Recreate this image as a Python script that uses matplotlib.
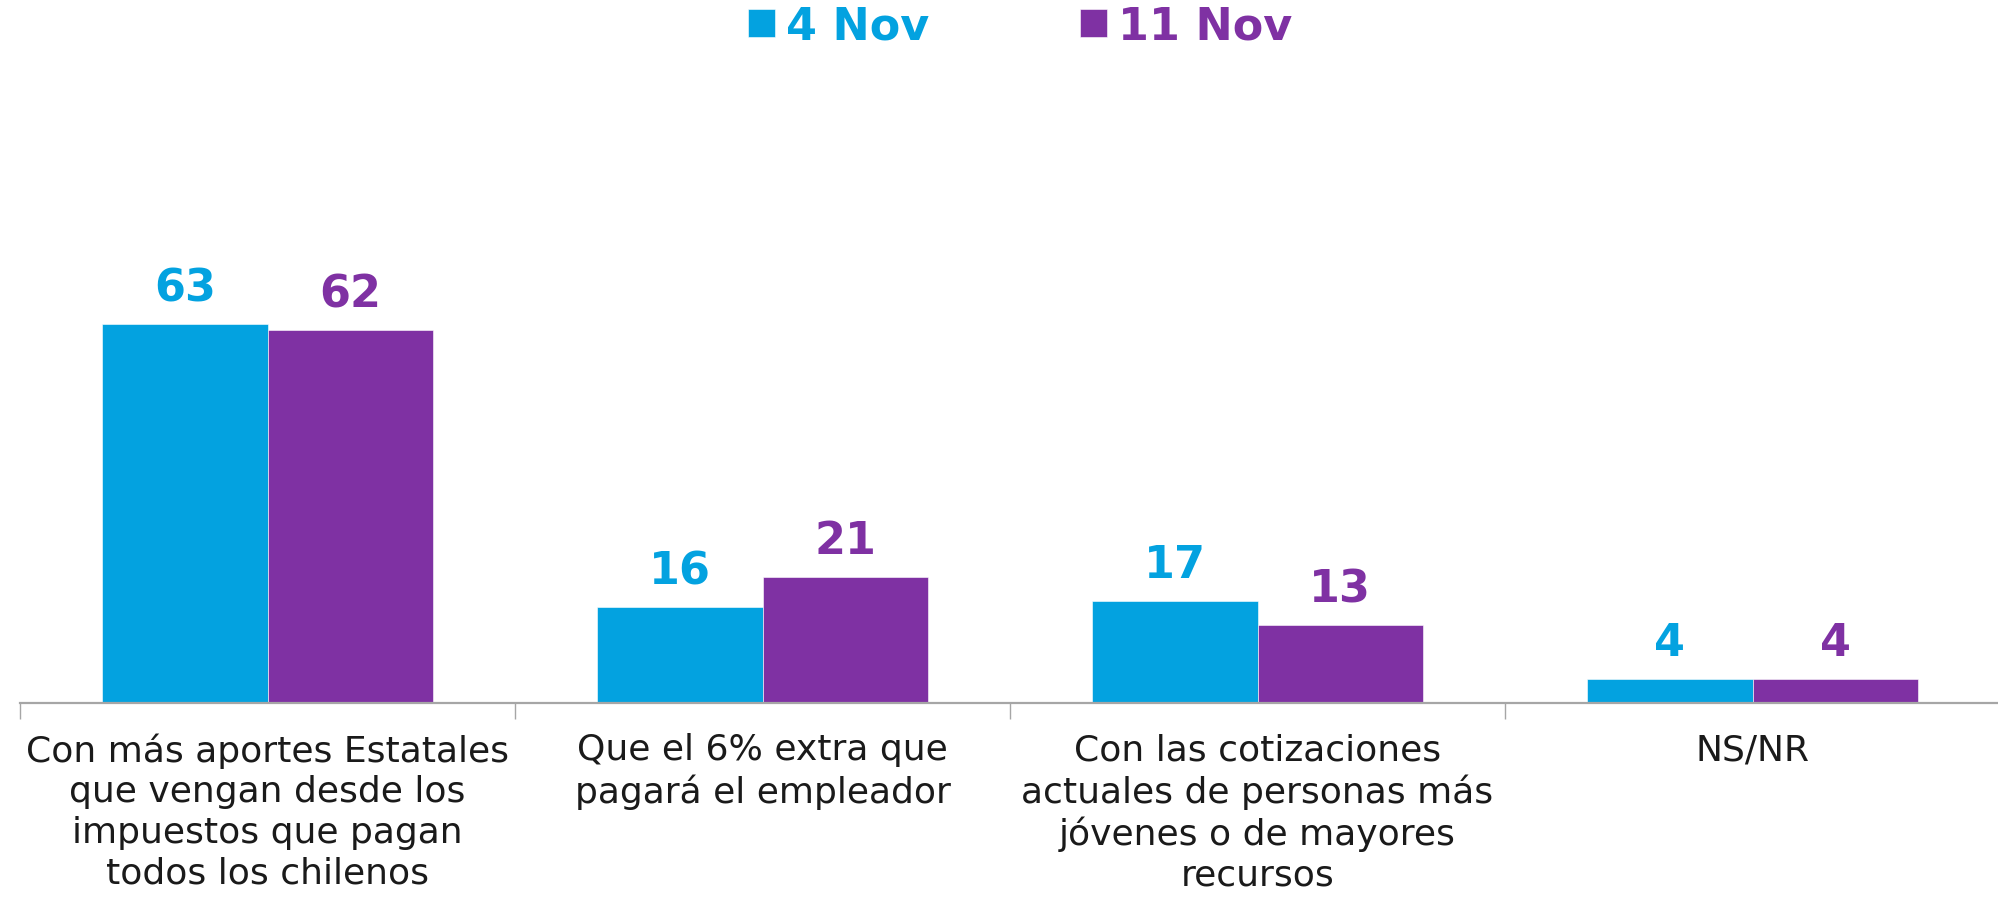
import matplotlib
matplotlib.use("Agg")
import matplotlib.pyplot as plt
import numpy as np

categories = [
    "Con más aportes Estatales\nque vengan desde los\nimpuestos que pagan\ntodos los chilenos",
    "Que el 6% extra que\npagará el empleador",
    "Con las cotizaciones\nactuales de personas más\njóvenes o de mayores\nrecursos",
    "NS/NR",
]
series_names = ["4 Nov", "11 Nov"]
nov4 = [63, 16, 17, 4]
nov11 = [62, 21, 13, 4]
colors = ["#03A2E0", "#7F31A3"]

W, H = 1998, 903
fig = plt.figure(figsize=(W / 100, H / 100), dpi=100)
plt.rcParams["font.family"] = ["DejaVu Sans"]

ax = fig.add_axes([20 / W, (H - 704) / H, (1998 - 20) / W, 602 / H])
x = np.arange(len(categories))
bw = 0.334
b1 = ax.bar(x - bw / 2, nov4, bw, color=colors[0], edgecolor="white", linewidth=0.4, label=series_names[0])
b2 = ax.bar(x + bw / 2, nov11, bw, color=colors[1], edgecolor="white", linewidth=0.4, label=series_names[1])

for bars, vals, c in [(b1, nov4, colors[0]), (b2, nov11, colors[1])]:
    for r, v in zip(bars, vals):
        ax.annotate(str(v), (r.get_x() + r.get_width() / 2, r.get_height()),
                    xytext=(0, 17), textcoords="offset points",
                    ha="center", va="baseline", fontsize=32, fontweight="bold", color=c)

ax.set_xlim(-0.5, 3.5 - 2 / 494)
ax.set_ylim(0, 100)
for s in ["top", "right", "left"]:
    ax.spines[s].set_visible(False)
ax.spines["bottom"].set_color("#A6A6A6")
ax.spines["bottom"].set_linewidth(1.6)
ax.set_yticks([])
ax.set_xticks(x)
ax.set_xticklabels(categories, fontsize=26, color="#1a1a1a", linespacing=1.24, va="top")
ax.tick_params(axis="x", which="major", length=0, pad=21)
ax.set_xticks([-0.5, 0.5, 1.5, 2.5], minor=True)
ax.tick_params(axis="x", which="minor", length=11.5, width=1.0, color="#A6A6A6")

leg = fig.legend(handles=[b1, b2], labels=series_names, loc="center left",
                 bbox_to_anchor=(748 / W, 1 - 27 / H), ncol=2, frameon=False,
                 prop={"size": 32, "weight": "bold"}, handlelength=0.6, handleheight=0.6,
                 handletextpad=0.25, columnspacing=3.4, borderpad=0, borderaxespad=0)
for t, c in zip(leg.get_texts(), colors):
    t.set_color(c)

fig.savefig("out.png", dpi=100)
